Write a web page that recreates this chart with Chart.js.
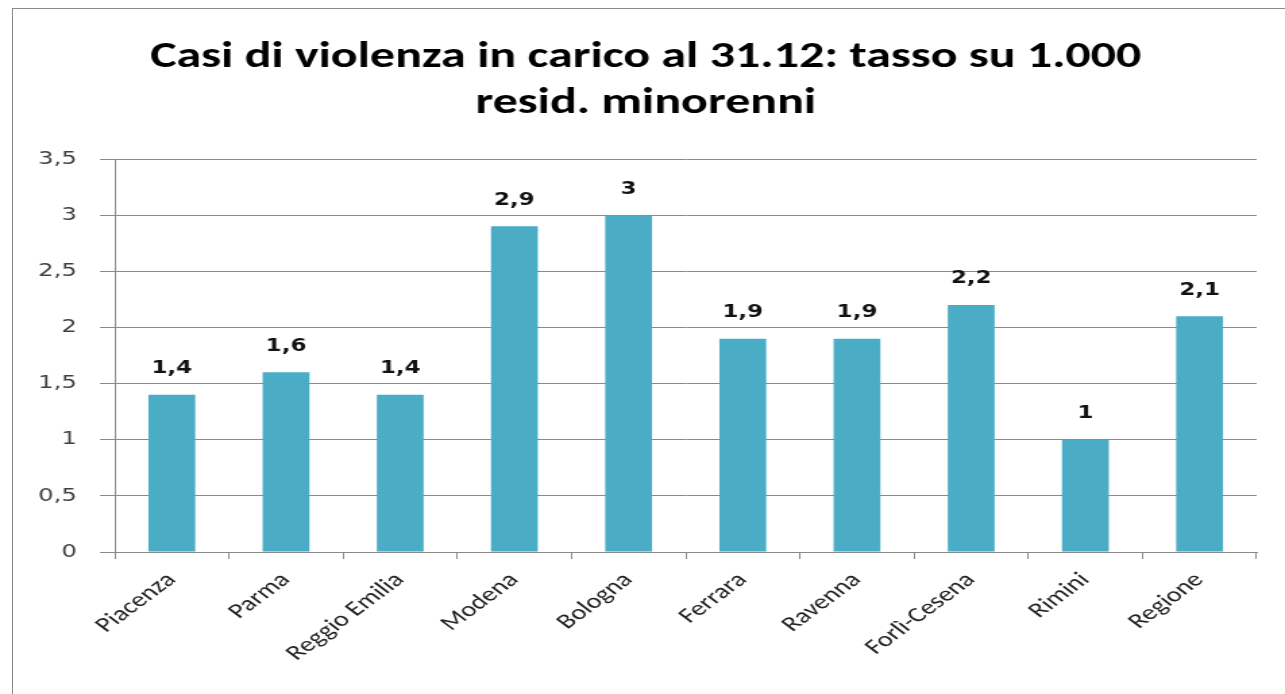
<!DOCTYPE html>
<html>
<head>
<meta charset="utf-8">
<script src="https://cdn.jsdelivr.net/npm/chart.js@4.4.1/dist/chart.umd.min.js"></script>
<style>
html,body{margin:0;padding:0;background:#fff;}
#wrap{position:relative;width:1285px;height:694px;overflow:hidden;}
#frame{position:absolute;left:12px;top:8px;width:1400px;height:800px;border:1.5px solid #8a8a8a;box-sizing:border-box;}
#c{position:absolute;left:0;top:0;width:1285px !important;height:694px !important;}
</style>
</head>
<body>
<div id="wrap">
<div id="frame"></div>
<canvas id="c" width="952" height="694"></canvas>
</div>
<script>
const categories = ["Piacenza","Parma","Reggio Emilia","Modena","Bologna","Ferrara","Ravenna","Forlì-Cesena","Rimini","Regione"];
const values = [1.4,1.6,1.4,2.9,3,1.9,1.9,2.2,1,2.1];
const titleLines = ["Casi di violenza in carico al 31.12: tasso su 1.000","resid. minorenni"];

const fmt = v => String(v).replace('.', ',');

const titlePlugin = {
  id: 'stretchTitle',
  afterDraw(chart) {
    const ctx = chart.ctx;
    ctx.save();
    ctx.font = 'bold 37px Carlito, Lato, "Open Sans", sans-serif';
    ctx.fillStyle = '#000';
    ctx.textAlign = 'center';
    ctx.textBaseline = 'middle';
    const cx = chart.width * 0.5025;
    ctx.fillText(titleLines[0], cx, 58);
    ctx.fillText(titleLines[1], cx, 104);
    ctx.restore();
  }
};

const labelPlugin = {
  id: 'valueLabels',
  afterDatasetsDraw(chart) {
    const ctx = chart.ctx;
    const meta = chart.getDatasetMeta(0);
    ctx.save();
    ctx.font = 'bold 17px "DejaVu Sans", Verdana, sans-serif';
    ctx.fillStyle = '#111';
    ctx.textAlign = 'center';
    ctx.textBaseline = 'middle';
    meta.data.forEach((bar, i) => {
      ctx.fillText(fmt(values[i]), bar.x, bar.y - 26);
    });
    ctx.restore();
  }
};

new Chart(document.getElementById('c'), {
  type: 'bar',
  data: {
    labels: categories,
    datasets: [{
      data: values,
      backgroundColor: '#4BACC6',
      borderWidth: 0,
      categoryPercentage: 1,
      barPercentage: 0.41
    }]
  },
  options: {
    responsive: false,
    maintainAspectRatio: false,
    devicePixelRatio: 1,
    animation: false,
    layout: { padding: { left: 0, right: 21, top: 159, bottom: 0 } },
    plugins: {
      legend: { display: false },
      tooltip: { enabled: false },
      title: { display: false }
    },
    scales: {
      y: {
        min: 0, max: 3.5,
        ticks: {
          stepSize: 0.5,
          callback: v => fmt(v),
          color: '#404040',
          font: { family: '"DejaVu Sans", Verdana, sans-serif', size: 18 },
          padding: 17
        },
        grid: { color: '#8a8a8a', lineWidth: 1, tickLength: 11, drawTicks: true },
        border: { color: '#8a8a8a', width: 1 },
        afterFit(scale) { scale.width = 85; }
      },
      x: {
        offset: true,
        ticks: {
          color: '#222',
          font: { family: 'Carlito, Lato, "Open Sans", sans-serif', size: 21 },
          maxRotation: 45, minRotation: 45,
          padding: 9
        },
        grid: { offset: true, drawOnChartArea: false, drawTicks: true, tickLength: 7, color: '#8a8a8a' },
        border: { color: '#8a8a8a', width: 1 },
        afterFit(scale) { scale.height = 142; }
      }
    }
  },
  plugins: [labelPlugin, titlePlugin]
});
</script>
</body>
</html>
